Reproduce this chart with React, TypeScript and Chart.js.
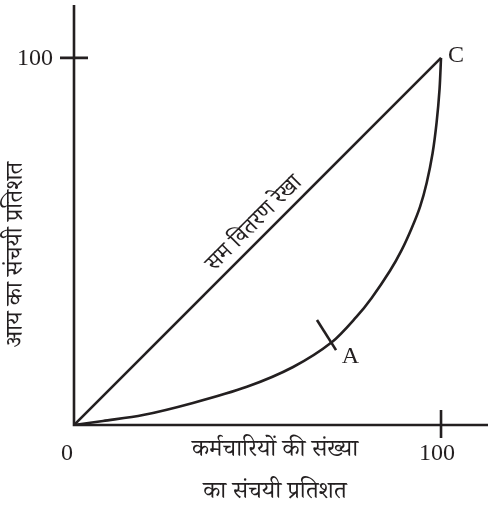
import React, { useEffect, useRef } from "react";
import { Chart, registerables } from "chart.js";

Chart.register(...registerables);

// Lorenz curve (cumulative % of employees vs cumulative % of income)
const curveX = [0, 7.9, 18.8, 32.4, 47.1, 59.7, 70.3, 77, 81.1, 86.1, 89.3, 92, 94.3, 96.1, 97.7, 98.8, 99.6, 100];
const curveY = [0, 1.1, 2.7, 6.0, 10.4, 15.8, 22.6, 29.5, 34.6, 42.0, 47.7, 53.6, 59.5, 66.0, 74.0, 82.4, 91.5, 100];
// line of equal distribution
const equalX = [0, 100];
const equalY = [0, 100];
// small mark across the curve at A
const markAX = [66.2, 71.4];
const markAY = [28.6, 20.4];
const pointA = { x: 73.5, y: 18.5, label: "A" };
const pointC = { x: 100, y: 100, label: "C" };
const tickValues = [0, 100];
const tickLabels = ["0", "100"];
const axisMax = { x: 112.8, y: 114.4 };
const xTitle = ["कर्मचारियों की संख्या", "का संचयी प्रतिशत"];
const yTitle = "आय का संचयी प्रतिशत";
const diagLabel = "सम वितरण रेखा";

const INK = "#231f20";
const SERIF = "'Liberation Serif', 'DejaVu Serif', serif";
const DEVA = "'Noto Serif Devanagari', 'Noto Sans Devanagari', 'Lohit Devanagari', 'Noto Sans', sans-serif";

const toPts = (xs: number[], ys: number[]) => xs.map((x, i) => ({ x, y: ys[i] }));

const decorPlugin = {
  id: "decor",
  afterDatasetsDraw(chart: any) {
    const ctx = chart.ctx as CanvasRenderingContext2D;
    const xs = chart.scales.x;
    const ys = chart.scales.y;
    const x0 = xs.getPixelForValue(0);
    const y0 = ys.getPixelForValue(0);
    const xEnd = xs.getPixelForValue(axisMax.x);
    const yEnd = ys.getPixelForValue(axisMax.y);
    ctx.save();
    ctx.strokeStyle = INK;
    ctx.lineWidth = 2.6;
    ctx.lineCap = "butt";
    // axes
    ctx.beginPath();
    ctx.moveTo(x0, yEnd);
    ctx.lineTo(x0, y0);
    ctx.lineTo(xEnd, y0);
    ctx.stroke();
    // ticks at 100
    const xt = xs.getPixelForValue(tickValues[1]);
    const yt = ys.getPixelForValue(tickValues[1]);
    ctx.beginPath();
    ctx.moveTo(x0 - 14, yt);
    ctx.lineTo(x0 + 14, yt);
    ctx.moveTo(xt, y0 - 15);
    ctx.lineTo(xt, y0 + 13);
    ctx.stroke();

    ctx.fillStyle = INK;
    ctx.font = `24px ${SERIF}`;
    ctx.textBaseline = "middle";
    ctx.textAlign = "right";
    ctx.fillText(tickLabels[1], x0 - 21, yt + 1);
    ctx.textAlign = "center";
    ctx.fillText(tickLabels[0], x0 - 7, y0 + 29);
    ctx.fillText(tickLabels[1], xt - 4, y0 + 29);
    ctx.textAlign = "left";
    ctx.fillText(pointC.label, xs.getPixelForValue(pointC.x) + 7, ys.getPixelForValue(pointC.y) - 2);
    ctx.fillText(pointA.label, xs.getPixelForValue(pointA.x) - 2, ys.getPixelForValue(pointA.y));

    // axis titles
    ctx.font = `24px ${DEVA}`;
    ctx.textAlign = "center";
    const cx = (x0 + xEnd) / 2 - 6;
    ctx.fillText(xTitle[0], cx, y0 + 29);
    ctx.fillText(xTitle[1], cx, y0 + 71);

    ctx.save();
    ctx.translate(20, (ys.getPixelForValue(0) + ys.getPixelForValue(100)) / 2 + 13);
    ctx.rotate(-Math.PI / 2);
    ctx.fillText(yTitle, 0, 0);
    ctx.restore();

    // diagonal label
    const px = xs.getPixelForValue(52);
    const py = ys.getPixelForValue(52);
    const ang = Math.atan2(ys.getPixelForValue(100) - ys.getPixelForValue(0), xs.getPixelForValue(100) - xs.getPixelForValue(0));
    ctx.save();
    ctx.translate(px, py);
    ctx.rotate(ang);
    ctx.font = `23px ${DEVA}`;
    ctx.textBaseline = "alphabetic";
    ctx.fillText(diagLabel, 0, -9);
    ctx.restore();
    ctx.restore();
  },
};

export default function App() {
  const ref = useRef<HTMLCanvasElement | null>(null);
  useEffect(() => {
    document.body.style.margin = "0";
    if (!ref.current) return;
    const lineStyle = {
      borderColor: INK,
      borderWidth: 2.6,
      pointRadius: 0,
      fill: false,
      showLine: true,
    };
    const chart = new Chart(ref.current, {
      type: "scatter",
      data: {
        datasets: [
          { ...lineStyle, label: "equal", data: toPts(equalX, equalY), tension: 0 },
          { ...lineStyle, label: "lorenz", data: toPts(curveX, curveY), tension: 0.3 },
          { ...lineStyle, label: "markA", data: toPts(markAX, markAY), tension: 0 },
        ] as any,
      },
      options: {
        animation: false,
        responsive: false,
        maintainAspectRatio: false,
        layout: { padding: { left: 74, top: 5, right: 0, bottom: 83 } },
        plugins: { legend: { display: false }, tooltip: { enabled: false } },
        scales: {
          x: { type: "linear", min: 0, max: axisMax.x, display: false },
          y: { type: "linear", min: 0, max: axisMax.y, display: false },
        },
      },
      plugins: [decorPlugin],
    });
    return () => chart.destroy();
  }, []);
  return <canvas ref={ref} width={488} height={508} style={{ display: "block" }} />;
}
